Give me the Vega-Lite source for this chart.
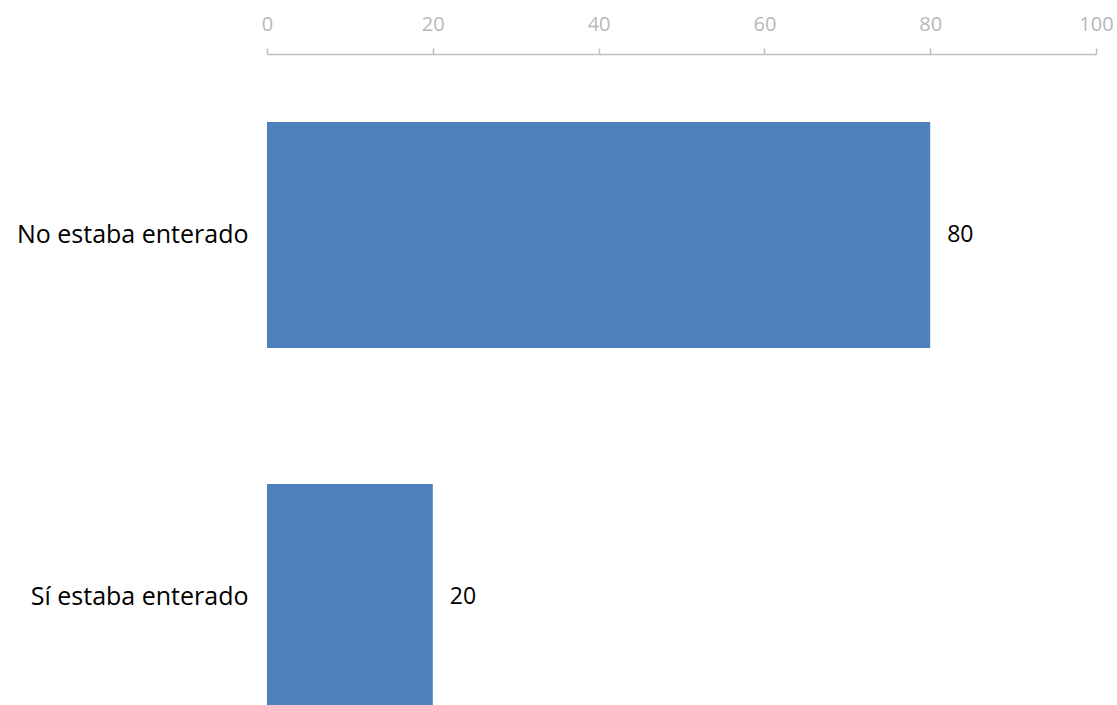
{
  "$schema": "https://vega.github.io/schema/vega-lite/v6.json",
  "autosize": {"type": "none"},
  "padding": {"left": 267, "top": 54, "right": 21, "bottom": 0},
  "width": 829,
  "height": 651,
  "background": "white",
  "config": {"view": {"stroke": null}, "font": "Open Sans"},
  "data": {"values": [
    {"respuesta": "No estaba enterado", "valor": 80},
    {"respuesta": "Sí estaba enterado", "valor": 20}
  ]},
  "encoding": {
    "y": {
      "field": "respuesta", "type": "nominal", "sort": null,
      "scale": {"paddingInner": 0.376, "paddingOuter": 0.188, "range": [0, 724]},
      "axis": {"title": null, "ticks": false, "domain": false, "labelPadding": 19,
               "labelFont": "Open Sans", "labelFontSize": 25, "labelColor": "#000000", "labelLimit": 400}
    },
    "x": {
      "field": "valor", "type": "quantitative",
      "scale": {"domain": [0, 100], "nice": false},
      "axis": {"orient": "top", "title": null, "values": [0, 20, 40, 60, 80, 100], "grid": false, "labelFlush": false, "labelOverlap": false, "labelBound": false,
               "domainColor": "#bfbfbf", "domainWidth": 1.5, "tickColor": "#bfbfbf", "tickWidth": 1.5, "tickSize": 6,
               "labelColor": "#b8b8b8", "labelFont": "Open Sans", "labelFontSize": 20, "labelPadding": 14}
    }
  },
  "layer": [
    {"mark": {"type": "bar", "color": "#4f81bd"}},
    {"mark": {"type": "text", "align": "left", "baseline": "middle", "dx": 17, "fontSize": 23, "color": "#000000", "font": "Open Sans"},
     "encoding": {"text": {"field": "valor", "type": "quantitative"}}}
  ]
}
